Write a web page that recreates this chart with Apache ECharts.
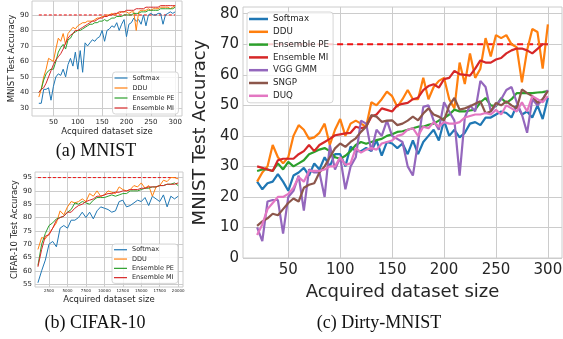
<!DOCTYPE html>
<html>
<head>
<meta charset="utf-8">
<script src="https://cdn.jsdelivr.net/npm/echarts@6.0.0/dist/echarts.min.js"></script>
<style>
  html, body { margin: 0; padding: 0; background: #fff; }
  #main { width: 563px; height: 339px; }
</style>
</head>
<body>
<div id="main"></div>
<script>
// acquired dataset sizes (MNIST / Dirty-MNIST panels)
const sizes = [20, 25, 30, 35, 40, 45, 50, 55, 60, 65, 70, 75, 80, 85, 90, 95, 100, 105, 110, 115,
  120, 125, 130, 135, 140, 145, 150, 155, 160, 165, 170, 175, 180, 185, 190, 195, 200, 205, 210, 215,
  220, 225, 230, 235, 240, 245, 250, 255, 260, 265, 270, 275, 280, 285, 290, 295, 300];
// acquired dataset sizes (CIFAR-10 panel)
const sizesCifar = [1000, 1500, 2000, 2500, 3000, 3500, 4000, 4500, 5000, 5500, 6000, 6500, 7000, 7500,
  8000, 8500, 9000, 9500, 10000, 10500, 11000, 11500, 12000, 12500, 13000, 13500, 14000, 14500, 15000,
  15500, 16000, 16500, 17000, 17500, 18000, 18500, 19000, 19500, 20000];

// (a) MNIST
const mnistSoftmax = [33, 33, 42, 42, 43, 35, 44, 50, 52, 51, 55, 50, 58, 62, 57, 66, 55, 67, 53, 72,
  70, 72, 74, 73, 75, 76, 80, 73, 80, 81, 83, 82, 85, 80, 84, 87, 76, 84, 85, 88,
  86, 87, 84, 90, 83, 90, 91, 90, 90, 91, 91, 84, 90, 91, 92, 91, 92];
const mnistDDU = [37, 42, 50, 55, 62, 61, 60, 68, 75, 73, 78, 71, 78, 80, 82, 81, 83, 84, 85, 85,
  86, 86, 86, 87, 88, 88, 89, 89, 90, 90, 91, 90, 91, 91, 92, 92, 92, 91, 92, 92,
  80, 92, 93, 93, 93, 94, 93, 94, 94, 94, 95, 95, 95, 95, 94, 95, 96];
const mnistPE = [40, 42, 48, 52, 54, 55, 55, 60, 66, 69, 71, 68, 74, 75, 78, 79, 80, 80, 81, 82,
  83, 84, 84, 85, 85, 86, 86, 87, 86, 87, 88, 88, 89, 89, 89, 90, 90, 90, 90, 91,
  91, 91, 92, 92, 92, 93, 93, 93, 93, 93, 94, 94, 94, 94, 94, 94, 95];
const mnistMI = [40, 42, 43, 46, 50, 54, 58, 61, 63, 65, 68, 72, 75, 77, 78, 80, 80, 81, 82, 83,
  84, 85, 86, 86, 87, 88, 88, 89, 89, 90, 90, 91, 91, 92, 92, 92, 93, 93, 93, 93,
  94, 94, 94, 94, 95, 95, 95, 95, 95, 95, 96, 96, 96, 96, 96, 96, 96];

// (b) CIFAR-10
const cifarSoftmax = [55.5, 60, 64, 70, 71, 69, 76, 77, 76, 79, 79, 80, 82, 80, 82, 79.5, 82.5, 84, 83.5, 83,
  82, 82.5, 86, 86.5, 84, 84.5, 85.5, 86.5, 86, 87.5, 84.5, 88, 87, 86, 88.5, 84, 88, 87, 88];
const cifarDDU = [68, 72.5, 72, 74, 76, 78, 82.5, 81, 84, 86, 85.5, 86, 87, 86, 89, 88, 90, 88, 88.5, 90,
  89.5, 89, 91.5, 90.5, 90, 90.5, 92, 91.5, 93, 91, 92, 88, 91.5, 92, 94, 93.5, 95, 95, 94.5];
const cifarPE = [62, 70, 74, 77, 78, 79.5, 80, 80.5, 82, 83, 85.5, 85, 86, 85.5, 85, 86.5, 87.5, 87.5, 87.5, 88,
  88.5, 88, 88.5, 89, 89, 90, 90, 90, 90.5, 91, 91, 91.5, 91.5, 92, 92, 92.5, 92.5, 93, 92];
const cifarMI = [61.5, 68, 73, 73.5, 76, 79, 80, 80.5, 82, 82, 83.5, 84.5, 85, 86, 86.5, 87, 88, 88, 88.5, 89,
  89, 89.5, 89.5, 90, 90, 90.5, 90.5, 90.5, 91, 91, 91.5, 91.5, 91.5, 92, 92, 92.5, 92.5, 92.5, 93];

// (c) Dirty-MNIST
const dirtySoftmax = [25, 22.5, 24.5, 25, 27.5, 25, 22, 27, 28, 29.5, 27, 31, 29, 33, 30, 34, 34, 30, 36.5, 35,
  35, 36, 35, 38.5, 33.5, 38, 37.5, 36, 37.5, 34, 38.5, 34, 38, 40, 42, 38.5, 45, 40, 42, 39.5,
  41, 44, 44.5, 43.5, 46, 46, 47, 48, 47.5, 46, 50, 47, 48, 46, 50, 45.5, 52.5];
const dirtyDDU = [25, 28, 30, 37, 33, 31, 33, 40, 43.5, 42, 39, 39.5, 41, 44, 37, 42, 45.5, 40, 44, 45,
  44, 43, 51, 50, 52, 54.5, 53, 49.5, 52, 55, 52, 52, 59, 52, 56, 58, 59, 52, 49, 64,
  57, 67, 59, 62, 72, 66, 73, 72, 73, 70, 69, 57.5, 68, 75, 74, 62, 76.5];
const dirtyPE = [28.5, 29, 29, 28.5, 31, 29, 31.5, 30, 31, 32, 34, 34.7, 35.5, 36, 35, 33, 32.5, 33.5, 35, 37,
  38, 37.4, 38, 38.6, 39, 40, 40.5, 41.3, 41.5, 42, 42.5, 43, 43, 43.6, 44, 45, 45.8, 47, 48.6, 48,
  48, 48.3, 48.6, 51, 52.4, 50, 49.7, 52.4, 50.8, 52, 54, 54, 54, 54, 54.2, 54.3, 54.7];
const dirtyMI = [30, 29.5, 29, 28.5, 32, 32.5, 32.5, 32.5, 34, 35, 37, 35, 37, 38, 39, 40.2, 40.5, 40.8, 41, 43,
  42.5, 43, 46.3, 47, 49, 48.5, 48, 50, 50.5, 50.8, 52, 52.5, 55, 56.3, 56.9, 55.8, 58.6, 59, 61.3, 60.2,
  60, 59.7, 62, 64.7, 64, 64, 65, 65.5, 67, 68, 68.6, 68.6, 68, 67, 68.5, 70, 70];
const dirtyGMM = [10, 5.5, 18.5, 19, 19, 8, 20, 22, 27, 15.5, 29, 28, 28, 20, 37, 29, 33, 22.5, 30, 33,
  45, 44, 35, 42, 40, 45, 40, 39, 38, 30, 27, 38, 49.5, 50, 45, 42, 51, 48, 45, 27,
  46, 50, 48, 58, 56, 48, 50, 52, 55, 56, 51, 47, 41, 52, 50, 52, 55];
const dirtySNGP = [10.5, 12, 13, 14.5, 14, 16, 18, 19.5, 18.5, 23, 24, 24.5, 28, 30, 33, 35.9, 37.5, 36.4, 38, 39.2,
  41.3, 43, 46.8, 46.3, 44.6, 45, 45.1, 43.5, 44, 45, 46.3, 45.1, 47.3, 49, 47, 46.3, 45, 50, 52.4, 48.6,
  49, 49.7, 50.5, 51.3, 47.4, 48, 50.8, 50, 51.3, 50, 49, 55.2, 54, 53, 50.8, 52, 54.7];
const dirtyDUQ = [7.5, 11, 16, 18, 20, 20, 21, 23, 26.5, 25, 28.5, 28.5, 28.5, 29, 30, 30, 33, 30.5, 31, 36,
  34.5, 35.5, 36, 35.5, 37.5, 38, 38.5, 40, 40.5, 42, 42.5, 40, 43, 42.5, 44.5, 43, 44.5, 44, 44, 44.5,
  46, 46.5, 47, 47, 47.5, 47, 48.5, 47, 50, 49, 48, 51, 48, 53, 52, 51, 53];

// target accuracy lines (dashed red)
const targetMnist = [90, 90];
const targetCifar = [95, 95];
const targetDirty = [70, 70];

// tick labels
const ticksSize = [50, 100, 150, 200, 250, 300];
const ticksCifarSize = [2500, 5000, 7500, 10000, 12500, 15000, 17500, 20000];
const ticksMnistAcc = [30, 40, 50, 60, 70, 80, 90];
const ticksCifarAcc = [55, 60, 65, 70, 75, 80, 85, 90, 95];
const ticksDirtyAcc = [0, 10, 20, 30, 40, 50, 60, 70, 80];

const FONT = 'DejaVu Sans';
const TEXT = '#262626';
const GRID = '#cccccc';
const colors = {
  'Softmax': '#1f77b4', 'DDU': '#ff7f0e', 'Ensemble PE': '#2ca02c', 'Ensemble MI': '#d62728',
  'VGG GMM': '#9467bd', 'SNGP': '#8c564b', 'DUQ': '#e377c2'
};

const chart = echarts.init(document.getElementById('main'));

function curve(name, xs, ys, idx, width) {
  return {
    name: name, type: 'line', xAxisIndex: idx, yAxisIndex: idx,
    data: xs.map((x, i) => [x, ys[i]]),
    symbol: 'none', showSymbol: false, silent: true,
    lineStyle: { width: width, color: colors[name] },
    itemStyle: { color: colors[name] }
  };
}

function target(xs, ys, idx, width, dash) {
  return {
    name: 'target', type: 'line', xAxisIndex: idx, yAxisIndex: idx,
    data: xs.map((x, i) => [x, ys[i]]),
    symbol: 'none', silent: true,
    lineStyle: { width: width, color: '#ee1111', type: dash }
  };
}

function axis(idx, min, max, ticks, fontSize, margin, extra) {
  return Object.assign({
    type: 'value', gridIndex: idx, min: min, max: max,
    axisLine: { show: false },
    axisTick: { show: false, customValues: ticks },
    axisLabel: { customValues: ticks, color: TEXT, fontFamily: FONT, fontSize: fontSize, margin: margin,
      formatter: v => String(v) },
    splitLine: { show: true, lineStyle: { color: GRID, width: 1 } },
    nameLocation: 'middle',
    nameTextStyle: { color: TEXT, fontFamily: FONT }
  }, extra || {});
}

function legend(names, left, top, fontSize, lineH, gap, iconW, iconH) {
  return {
    data: names, orient: 'vertical', left: left, top: top,
    icon: 'rect', itemWidth: iconW, itemHeight: iconH, itemGap: gap,
    selectedMode: false,
    textStyle: { fontFamily: FONT, fontSize: fontSize, lineHeight: lineH, color: TEXT },
    padding: [2, 4, 2, 2],
    borderColor: GRID, borderWidth: 0.8, borderRadius: 3,
    backgroundColor: 'rgba(255,255,255,0.8)'
  };
}

const gridBase = { show: true, borderColor: GRID, borderWidth: 1, backgroundColor: '#fff', containLabel: false, outerBoundsMode: 'none' };

const option = {
  animation: false,
  grid: [
    Object.assign({ left: 32, top: 1, width: 150, height: 115 }, gridBase),
    Object.assign({ left: 35, top: 172, width: 148, height: 115 }, gridBase),
    Object.assign({ left: 243, top: 7, width: 319, height: 251 }, gridBase)
  ],
  xAxis: [
    axis(0, 6, 314, ticksSize, 7, 3, { name: 'Acquired dataset size', nameGap: 10, nameTextStyle: { color: TEXT, fontFamily: FONT, fontSize: 8.5 } }),
    axis(1, 600, 20650, ticksCifarSize, 4, 2, { name: 'Acquired dataset size', nameGap: 8, nameTextStyle: { color: TEXT, fontFamily: FONT, fontSize: 8.5 } }),
    axis(2, 6.4, 313.6, ticksSize, 15, 5, { name: 'Acquired dataset size', nameGap: 22, nameTextStyle: { color: TEXT, fontFamily: FONT, fontSize: 18 } })
  ],
  yAxis: [
    axis(0, 24.8, 99, ticksMnistAcc, 7, 3, { name: 'MNIST Test Accuracy', nameGap: 14, nameTextStyle: { color: TEXT, fontFamily: FONT, fontSize: 8.5 } }),
    axis(1, 53.9, 97.1, ticksCifarAcc, 7, 3, { name: 'CIFAR-10 Test Accuracy', nameGap: 16, nameTextStyle: { color: TEXT, fontFamily: FONT, fontSize: 8.5 } }),
    axis(2, 0, 82.2, ticksDirtyAcc, 15, 4, { name: 'MNIST Test Accuracy', nameGap: 30, nameTextStyle: { color: TEXT, fontFamily: FONT, fontSize: 18 } })
  ],
  legend: [
    legend(['Softmax', 'DDU', 'Ensemble PE', 'Ensemble MI'], 112.5, 72, 6.5, 8, 2, 13, 1.2),
    legend(['Softmax', 'DDU', 'Ensemble PE', 'Ensemble MI'], 112, 244, 6.5, 7.5, 1.8, 13, 1.2),
    legend(['Softmax', 'DDU', 'Ensemble PE', 'Ensemble MI', 'VGG GMM', 'SNGP', 'DUQ'], 247, 12, 8.7, 10, 2.8, 19, 2.5)
  ],
  series: [
    target([20, 300], targetMnist, 0, 1, [3, 2]),
    curve('Softmax', sizes, mnistSoftmax, 0, 1),
    curve('DDU', sizes, mnistDDU, 0, 1),
    curve('Ensemble PE', sizes, mnistPE, 0, 1),
    curve('Ensemble MI', sizes, mnistMI, 0, 1),

    target([1000, 20000], targetCifar, 1, 1, [3, 2]),
    curve('Softmax', sizesCifar, cifarSoftmax, 1, 1),
    curve('DDU', sizesCifar, cifarDDU, 1, 1),
    curve('Ensemble PE', sizesCifar, cifarPE, 1, 1),
    curve('Ensemble MI', sizesCifar, cifarMI, 1, 1),

    target([20, 300], targetDirty, 2, 1.8, [6, 4]),
    curve('Softmax', sizes, dirtySoftmax, 2, 2.2),
    curve('DDU', sizes, dirtyDDU, 2, 2.2),
    curve('Ensemble PE', sizes, dirtyPE, 2, 2.2),
    curve('Ensemble MI', sizes, dirtyMI, 2, 2.2),
    curve('VGG GMM', sizes, dirtyGMM, 2, 2.2),
    curve('SNGP', sizes, dirtySNGP, 2, 2.2),
    curve('DUQ', sizes, dirtyDUQ, 2, 2.2)
  ],
  graphic: [
    { type: 'text', x: 96, y: 151, style: { text: '(a) MNIST', fontFamily: 'Liberation Serif', fontSize: 18, fill: '#111', align: 'center', verticalAlign: 'middle' } },
    { type: 'text', x: 95, y: 323, style: { text: '(b) CIFAR-10', fontFamily: 'Liberation Serif', fontSize: 18, fill: '#111', align: 'center', verticalAlign: 'middle' } },
    { type: 'text', x: 379, y: 323, style: { text: '(c) Dirty-MNIST', fontFamily: 'Liberation Serif', fontSize: 18, fill: '#111', align: 'center', verticalAlign: 'middle' } }
  ]
};

chart.setOption(option);
</script>
</body>
</html>
